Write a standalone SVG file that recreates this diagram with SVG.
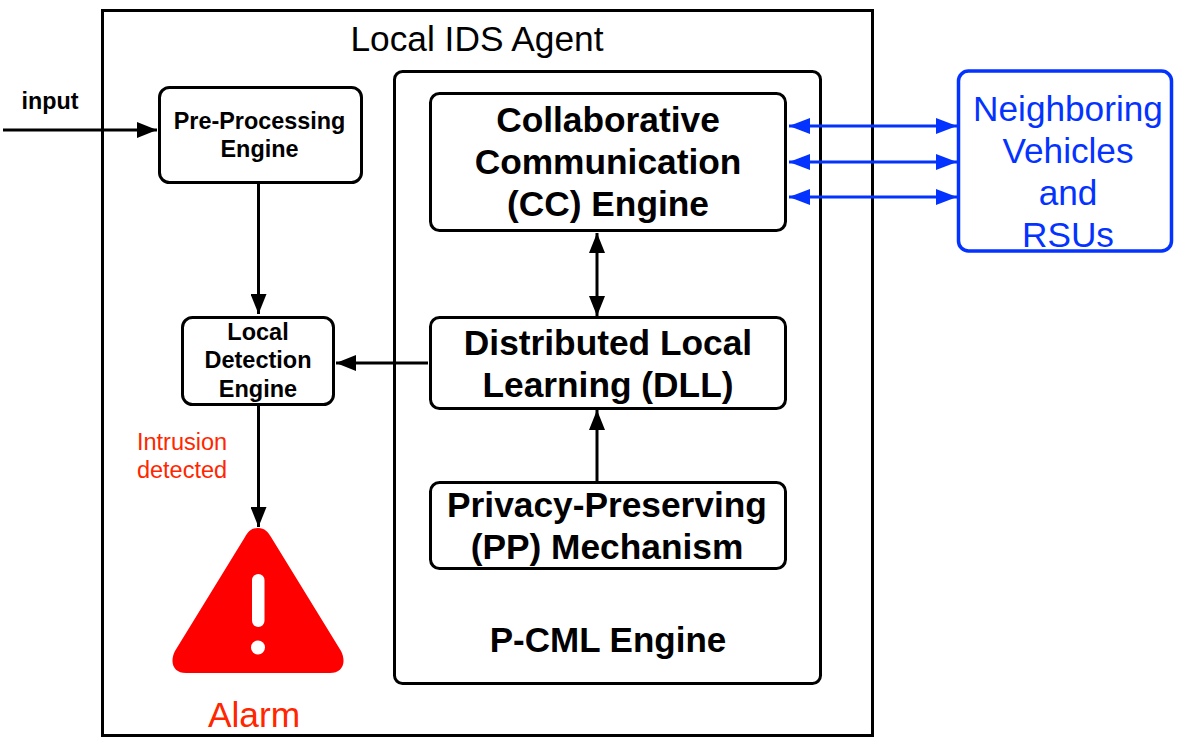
<svg xmlns="http://www.w3.org/2000/svg" width="1180" height="744" viewBox="0 0 1180 744">
<defs>
<marker id="ak" viewBox="0 0 20 16" markerUnits="userSpaceOnUse" markerWidth="20" markerHeight="16" refX="20" refY="8" orient="auto-start-reverse"><path d="M0 0L20 8L0 16Z" fill="#000"/></marker>
<marker id="ab" viewBox="0 0 21 16" markerUnits="userSpaceOnUse" markerWidth="21" markerHeight="16" refX="21" refY="8" orient="auto-start-reverse"><path d="M0 0L21 8L0 16Z" fill="#0433ff"/></marker>
</defs>
<style>
text{font-family:"Liberation Sans",Arial,sans-serif;text-anchor:middle}
.box{fill:#fff;stroke:#000;stroke-width:3}
.b{font-weight:bold;fill:#000}
.c{stroke:#000;stroke-width:3;fill:none;marker-end:url(#ak)}
.u{stroke:#0433ff;stroke-width:3;fill:none;marker-start:url(#ab);marker-end:url(#ab)}
.red{fill:#ff2600}
.blue{fill:#0433ff;font-size:35.2px}
</style>
<rect width="1180" height="744" fill="#fff"/>
<g id="agent">
<rect x="102.500" y="10.500" width="770" height="725" fill="#fff" stroke="#000" stroke-width="3"/>
<text x="477" y="51" font-size="35.300">Local IDS Agent</text>
</g>
<g id="pcml">
<rect class="box" x="394.500" y="71.500" width="426" height="612" rx="8"/>
<text class="b" x="608" y="652" font-size="35">P-CML Engine</text>
</g>
<g id="preprocessing">
<rect class="box" x="159.500" y="87.500" width="202" height="95" rx="10"/>
<text class="b" x="259.500" y="129" font-size="23.400">Pre-Processing</text>
<text class="b" x="259.500" y="157" font-size="23.400">Engine</text>
</g>
<g id="detection">
<rect class="box" x="182.500" y="317.500" width="151" height="87" rx="10"/>
<text class="b" x="258" y="340" font-size="23.500">Local</text>
<text class="b" x="258" y="368" font-size="23.500">Detection</text>
<text class="b" x="258" y="397" font-size="23.500">Engine</text>
</g>
<g id="cc">
<rect class="box" x="430.500" y="93.500" width="355" height="137" rx="9"/>
<text class="b" x="608" y="132" font-size="35.300">Collaborative</text>
<text class="b" x="608" y="174" font-size="35.300">Communication</text>
<text class="b" x="608" y="216" font-size="35.300">(CC) Engine</text>
</g>
<g id="dll">
<rect class="box" x="430.500" y="317.500" width="355" height="91" rx="9"/>
<text class="b" x="608" y="355" font-size="35.300">Distributed Local</text>
<text class="b" x="608" y="397" font-size="35.300">Learning (DLL)</text>
</g>
<g id="pp">
<rect class="box" x="430.500" y="482.500" width="355" height="86" rx="9"/>
<text class="b" x="607" y="517" font-size="35.300">Privacy-Preserving</text>
<text class="b" x="607" y="559" font-size="35.300">(PP) Mechanism</text>
</g>
<g id="neighbors">
<rect x="958.500" y="71" width="213" height="180" rx="10" fill="#fff" stroke="#0433ff" stroke-width="3.500"/>
<text class="blue" x="1068" y="120.500">Neighboring</text>
<text class="blue" x="1068" y="162.500">Vehicles</text>
<text class="blue" x="1068" y="204.500">and</text>
<text class="blue" x="1068" y="246.500">RSUs</text>
</g>
<g id="alarm">
<path d="M258 528C251 528 248 532 245 537L175 651C169 663 174 673 186 673H330C342 673 347 663 341 651L271 537C268 532 265 528 258 528Z" fill="#ff0000"/>
<rect x="252" y="574" width="12.500" height="53" rx="6.200" fill="#fff"/>
<circle cx="258" cy="647.500" r="7" fill="#fff"/>
<text class="red" x="254" y="727" font-size="35.300">Alarm</text>
</g>
<g id="connectors">
<path class="c" d="M3 130H157"/>
<path class="c" d="M258.500 183V314"/>
<path class="c" d="M428 363H336"/>
<path class="c" d="M258.500 405V527"/>
<path class="c" style="marker-start:url(#ak)" d="M597 233V316"/>
<path class="c" d="M597 481V410"/>
<path class="u" d="M789 126H957"/>
<path class="u" d="M789 162H957"/>
<path class="u" d="M789 197H957"/>
</g>
<text x="50" y="109" font-size="23.300" class="b">input</text>
<text class="red" x="182" y="450" font-size="23.500">Intrusion</text>
<text class="red" x="182" y="478" font-size="23.500">detected</text>
</svg>
